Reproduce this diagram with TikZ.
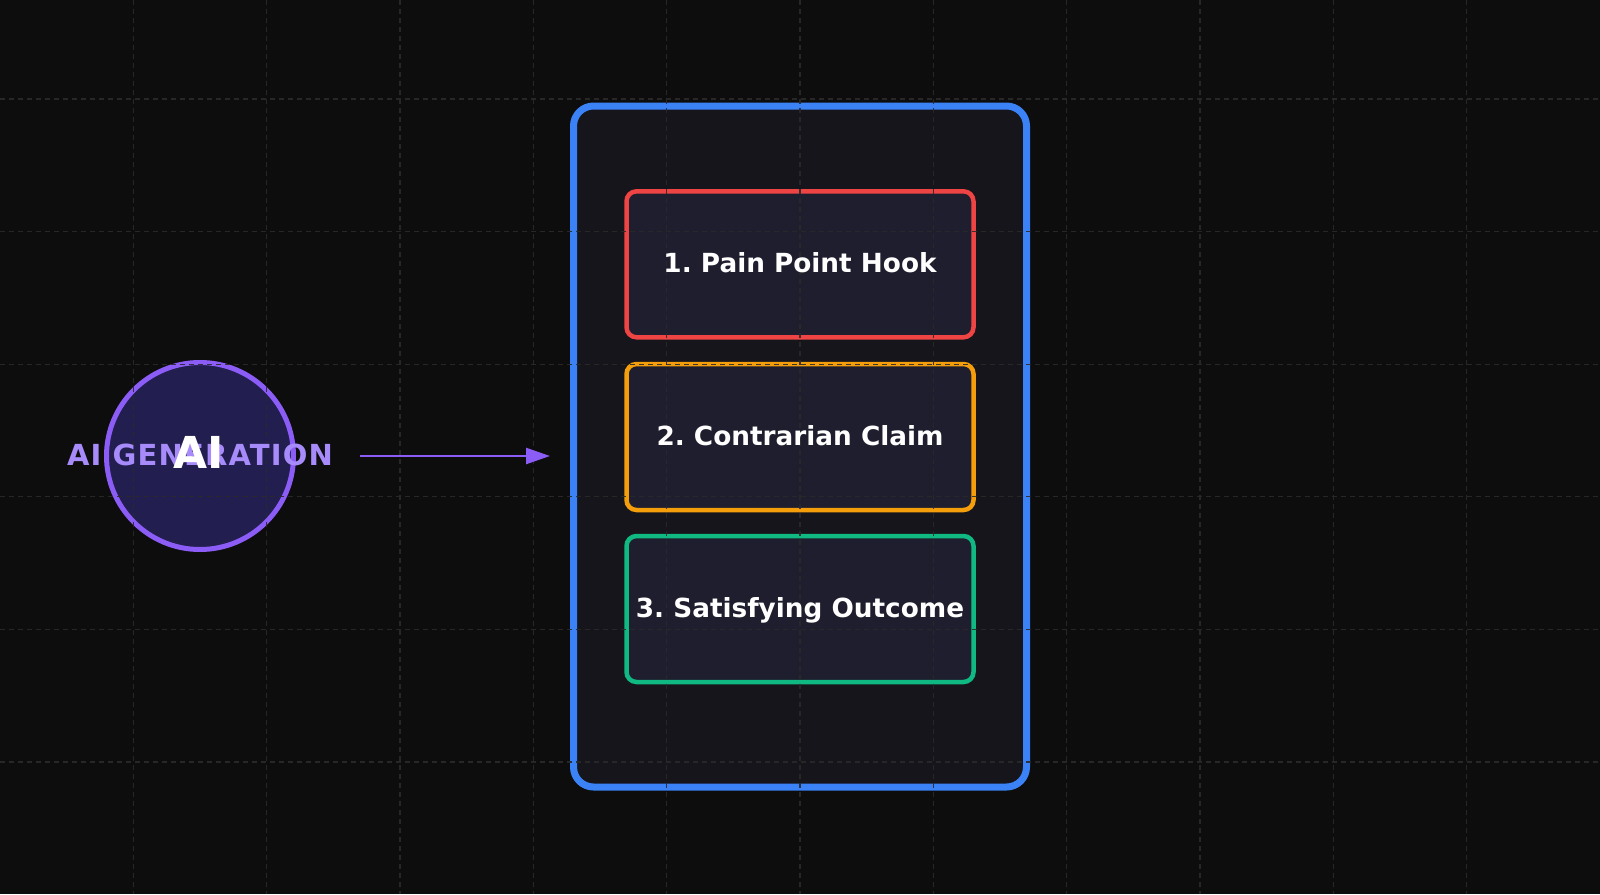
\documentclass[tikz,border=0pt]{standalone}
\usepackage{fontspec}
\setmainfont{DejaVu Sans}
\usetikzlibrary{arrows.meta}
\definecolor{bgc}{HTML}{0D0D0D}
\definecolor{gridc}{HTML}{2A2A2A}
\definecolor{outerfill}{HTML}{15151B}
\definecolor{innerfill}{HTML}{1E1E2E}
\definecolor{bluec}{HTML}{3B82F6}
\definecolor{redc}{HTML}{EF4444}
\definecolor{orangec}{HTML}{F59E0B}
\definecolor{greenc}{HTML}{10B981}
\definecolor{violetc}{HTML}{8B5CF6}
\definecolor{lightviolet}{HTML}{A78BFA}
\definecolor{circfill}{HTML}{221E50}
\tikzset{
  outerbox/.style={draw=bluec, fill=outerfill, line width=7pt, rounded corners=20pt,
    minimum width=453pt, minimum height=681pt, inner sep=0pt},
  stepbox/.style={fill=innerfill, line width=4.5pt, rounded corners=10pt,
    minimum width=347pt, minimum height=146pt, inner sep=0pt},
  steptext/.style={text=white, font=\bfseries\fontsize{26.3}{30}\selectfont, inner sep=0pt, anchor=base},
  gridline/.style={draw=gridc, line width=1.2pt, dash pattern=on 5pt off 4pt, opacity=0.9},
  aicircle/.style={circle, draw=violetc, fill=circfill, line width=5pt, minimum size=187pt, inner sep=0pt},
  flow/.style={draw=violetc, line width=2.5pt, -{Triangle[length=24pt, width=16pt]}}
}
\begin{document}
\frenchspacing
\begin{tikzpicture}[x=1pt, y=-1pt]
\fill[bgc] (0,0) rectangle (1600,894);
\useasboundingbox (0,0) rectangle (1600,894);
% boxes
\node[outerbox] (outer) at (800,446.5) {};
\node[stepbox, draw=redc] (b1) at (800,264.3) {};
\node[stepbox, draw=orangec] (b2) at (800,437) {};
\node[stepbox, draw=greenc] (b3) at (800,609) {};
\node[aicircle] (ai) at (200,456) {};
% grid
\foreach \i in {1,...,11} {
  \draw[gridline] (133.333*\i,0) -- (133.333*\i,894);
}
\foreach \j in {0,...,5} {
  \draw[gridline] (0,99+132.6*\j) -- (1600,99+132.6*\j);
}
% texts
\node[steptext] (t1) at ([yshift=-8pt]b1.center) {1. Pain Point Hook};
\node[steptext] (t2) at ([yshift=-8pt]b2.center) {2. Contrarian Claim};
\node[steptext] (t3) at ([yshift=-8pt]b3.center) {3. Satisfying Outcome};
\node[text=lightviolet, inner sep=0pt, font=\bfseries\fontsize{29}{32}\selectfont\addfontfeature{LetterSpace=4}] (lbl) at (200,455) {AI GENERATION};
\node[text=white, inner sep=0pt, font=\bfseries\fontsize{44}{48}\selectfont] (aitxt) at (199,452) {AI};
% arrow
\coordinate (astart) at ([xshift=64pt]ai.east);
\coordinate (aend) at ([xshift=-20pt]astart -| outer.west);
\draw[flow] (astart) -- (aend);
\end{tikzpicture}
\end{document}
